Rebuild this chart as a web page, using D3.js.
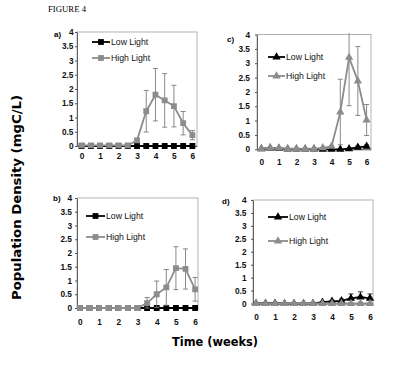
<!DOCTYPE html>
<html><head><meta charset="utf-8">
<script src="https://cdn.jsdelivr.net/npm/d3@7"></script>
<style>body{margin:0;background:#fff}svg{display:block}</style>
</head><body>
<svg id="chart" width="400" height="366"></svg>
<script>
// ---- data ----
const weeks = [0, 0.5, 1, 1.5, 2, 2.5, 3, 3.5, 4, 4.5, 5, 5.5, 6];
const xTicks = [0, 1, 2, 3, 4, 5, 6];
const yTicks = [0, 0.5, 1, 1.5, 2, 2.5, 3, 3.5, 4];
const seriesNames = ["Low Light", "High Light"];
const panelNames = ["a)", "b)", "c)", "d)"];

const aLow      = [0, 0, 0, 0, 0, 0, 0, 0, 0, 0, 0, 0, 0];
const aLowErr   = [0, 0, 0, 0, 0, 0, 0, 0, 0, 0, 0, 0, 0];
const aHigh     = [0.02, 0.02, 0.02, 0.02, 0.02, 0.02, 0.2, 1.22, 1.8, 1.6, 1.4, 0.8, 0.38];
const aHighErr  = [0, 0, 0, 0, 0, 0, 0, 0.73, 0.92, 0.94, 0.73, 0.41, 0.16];

const bLow      = [0, 0, 0, 0, 0, 0, 0, 0, 0, 0, 0, 0, 0];
const bLowErr   = [0, 0, 0, 0, 0, 0, 0, 0, 0, 0, 0, 0, 0];
const bHigh     = [0, 0, 0, 0, 0, 0, 0, 0.18, 0.5, 0.75, 1.45, 1.42, 0.68];
const bHighErr  = [0, 0, 0, 0, 0, 0, 0, 0.2, 0.48, 0.65, 0.78, 0.73, 0.43];

const cLow      = [0.02, 0.04, 0.03, 0.01, 0.01, 0.01, 0.01, 0, 0, 0, 0.02, 0.07, 0.1];
const cLowErr   = [0, 0.02, 0.02, 0, 0, 0, 0, 0, 0, 0, 0.02, 0.04, 0.05];
const cHigh     = [0.02, 0.05, 0.04, 0.02, 0.02, 0.02, 0.02, 0.05, 0.1, 1.3, 3.2, 2.38, 1.02];
const cHighErr  = [0, 0.02, 0.02, 0, 0, 0, 0, 0.02, 0.03, 1.14, 1.68, 1.2, 0.54];

const dLow      = [0, 0.01, 0.01, 0, 0, 0, 0, 0.05, 0.08, 0.1, 0.2, 0.25, 0.2];
const dLowErr   = [0, 0, 0, 0, 0, 0, 0, 0.02, 0.04, 0.07, 0.17, 0.2, 0.17];
const dHigh     = [0, 0, 0, 0, 0, 0, 0, 0, 0, 0, 0, 0, 0];
const dHighErr  = [0, 0, 0, 0, 0, 0, 0, 0, 0, 0, 0, 0, 0];

// ---- layout ----
const panels = [
  {name: panelNames[0], low: aLow, lowErr: aLowErr, high: aHigh, highErr: aHighErr, sym: d3.symbolSquare,
   L: 77, R: 197, T: 32, B: 146, pad: 0.25, lab: [54, 34], leg: [92, 110, 42, 58], yGap: 3.5, xGap: 6.8},
  {name: panelNames[1], low: bLow, lowErr: bLowErr, high: bHigh, highErr: bHighErr, sym: d3.symbolSquare,
   L: 77, R: 198, T: 198, B: 308, pad: 0.15, lab: [53, 198], leg: [86, 105, 216, 237], yGap: 5, xGap: 11},
  {name: panelNames[2], low: cLow, lowErr: cLowErr, high: cHigh, highErr: cHighErr, sym: d3.symbolTriangle,
   L: 257, R: 371, T: 34.5, B: 149.3, pad: 0.25, lab: [227, 39], leg: [268, 285, 57, 76], yGap: 7, xGap: 9.5},
  {name: panelNames[3], low: dLow, lowErr: dLowErr, high: dHigh, highErr: dHighErr, sym: d3.symbolTriangle,
   L: 253, R: 373, T: 200, B: 303.5, pad: 0.16, lab: [222, 201], leg: [268, 288, 217, 241], yGap: 6.5, xGap: 10.3}
];

const GRAY = "#8c8c8c", BLACK = "#000";
const svg = d3.select("#chart");

svg.append("text").attr("x", 48).attr("y", 12)
  .attr("font-family", "Liberation Serif, serif").attr("font-size", 8.6)
  .attr("textLength", 38).attr("lengthAdjust", "spacingAndGlyphs")
  .text("FIGURE 4");

svg.append("text")
  .attr("transform", "translate(21,197.5) rotate(-90)")
  .attr("text-anchor", "middle")
  .attr("font-family", "DejaVu Sans, Verdana, sans-serif").attr("font-weight", "bold").attr("font-size", 12)
  .attr("textLength", 205).attr("lengthAdjust", "spacingAndGlyphs")
  .text("Population Density (mgC/L)");

svg.append("text")
  .attr("x", 215).attr("y", 346)
  .attr("text-anchor", "middle")
  .attr("font-family", "DejaVu Sans, Verdana, sans-serif").attr("font-weight", "bold").attr("font-size", 12.5)
  .attr("textLength", 86).attr("lengthAdjust", "spacingAndGlyphs")
  .text("Time (weeks)");

panels.forEach((p, pi) => {
  const x = d3.scaleLinear().domain([-p.pad, 6 + p.pad]).range([p.L, p.R]);
  const y = d3.scaleLinear().domain([0, 4]).range([p.B, p.T]);
  const g = svg.append("g");

  const clipId = "clip" + pi;
  g.append("clipPath").attr("id", clipId).append("rect")
    .attr("x", p.L - 5).attr("y", p.T - 1.5).attr("width", p.R - p.L + 10).attr("height", p.B - p.T + 8);

  // frame
  g.append("rect").attr("x", p.L).attr("y", p.T).attr("width", p.R - p.L).attr("height", p.B - p.T)
    .attr("fill", "none").attr("stroke", "#a0a0a0").attr("stroke-width", 0.8);

  // y axis
  const ya = g.append("g").attr("transform", `translate(${p.L},0)`)
    .call(d3.axisLeft(y).tickValues(yTicks).tickSize(2).tickSizeOuter(0).tickPadding(p.yGap - 2).tickFormat(d => String(d)));
  ya.select(".domain").attr("stroke", "#555").attr("stroke-width", 0.9);
  ya.selectAll(".tick line").attr("stroke", "#555");
  ya.selectAll("text").attr("font-family", "Liberation Sans, Arial, sans-serif").attr("font-weight", "bold").attr("font-size", 8.3).attr("fill", "#111");

  // x axis
  const xa = g.append("g").attr("transform", `translate(0,${p.B})`)
    .call(d3.axisBottom(x).tickValues(xTicks).tickSize(0).tickPadding(p.xGap).tickFormat(d => String(d)));
  xa.select(".domain").attr("stroke", "#555").attr("stroke-width", 0.9);
  xa.selectAll("text").attr("font-family", "Liberation Sans, Arial, sans-serif").attr("font-weight", "bold").attr("font-size", 8.3).attr("fill", "#111");

  // panel label
  g.append("text").attr("x", p.lab[0]).attr("y", p.lab[1]).attr("dy", "0.35em")
    .attr("font-family", "Liberation Sans, Arial, sans-serif").attr("font-weight", "bold").attr("font-size", 8)
    .text(p.name);

  const symSize = p.sym === d3.symbolSquare ? 34 : 30;
  const series = [
    {vals: p.low, err: p.lowErr, color: BLACK, errColor: "#222"},
    {vals: p.high, err: p.highErr, color: GRAY, errColor: "#7a7a7a"}
  ];
  const plot = g.append("g").attr("clip-path", `url(#${clipId})`);
  series.forEach(s => {
    const pts = weeks.map((w, i) => ({w, v: s.vals[i], e: s.err[i]}));
    // error bars
    const eb = plot.append("g").attr("stroke", s.errColor).attr("stroke-width", 0.9);
    pts.filter(d => d.e > 0.025).forEach(d => {
      const x0 = x(d.w), yl = y(Math.max(0, d.v - d.e)), yh = y(d.v + d.e);
      eb.append("line").attr("x1", x0).attr("x2", x0).attr("y1", yl).attr("y2", yh);
      eb.append("line").attr("x1", x0 - 2.5).attr("x2", x0 + 2.5).attr("y1", yl).attr("y2", yl);
      eb.append("line").attr("x1", x0 - 2.5).attr("x2", x0 + 2.5).attr("y1", yh).attr("y2", yh);
    });
    plot.append("path").datum(pts)
      .attr("d", d3.line().x(d => x(d.w)).y(d => y(d.v)))
      .attr("fill", "none").attr("stroke", s.color).attr("stroke-width", 1.8);
    plot.selectAll(null).data(pts).enter().append("path")
      .attr("transform", d => `translate(${x(d.w)},${y(d.v)})`)
      .attr("d", d3.symbol().type(p.sym).size(symSize))
      .attr("fill", s.color);
  });

  // legend
  const [lx1, lx2, ly1, ly2] = p.leg;
  [[ly1, BLACK, seriesNames[0]], [ly2, GRAY, seriesNames[1]]].forEach(([ly, col, txt]) => {
    g.append("line").attr("x1", lx1).attr("x2", lx2).attr("y1", ly).attr("y2", ly)
      .attr("stroke", col).attr("stroke-width", 1.8);
    g.append("path").attr("transform", `translate(${(lx1 + lx2) / 2},${ly})`)
      .attr("d", d3.symbol().type(p.sym).size(symSize)).attr("fill", col);
    g.append("text").attr("x", lx2 + 1).attr("y", ly).attr("dy", "0.35em")
      .attr("font-family", "Liberation Sans, Arial, sans-serif").attr("font-size", 8.7).attr("fill", "#111")
      .text(txt);
  });
});
</script>
</body></html>
